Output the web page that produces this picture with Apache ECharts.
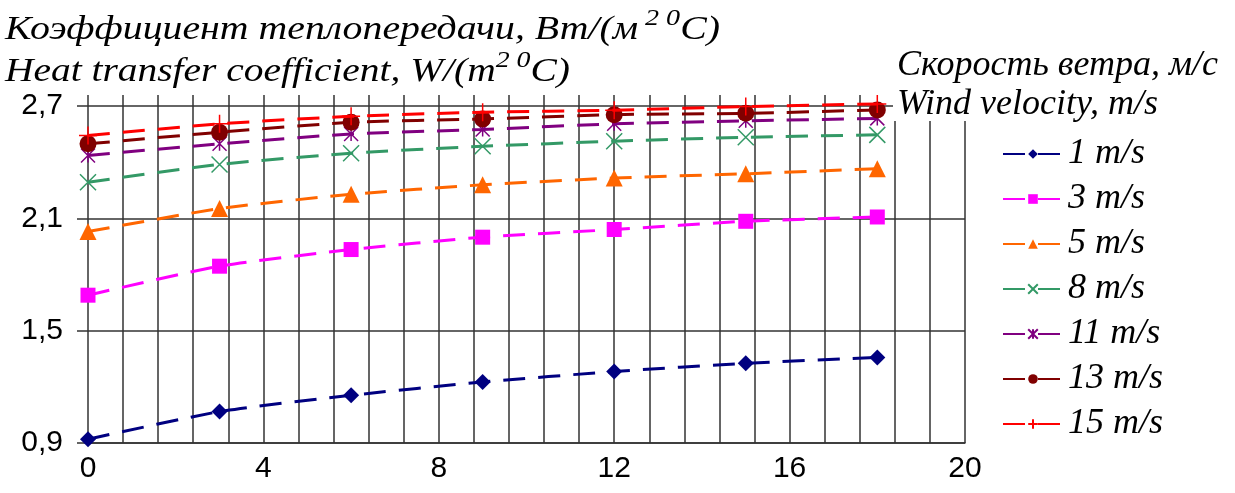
<!DOCTYPE html>
<html>
<head>
<meta charset="utf-8">
<script src="https://cdn.jsdelivr.net/npm/echarts@6/dist/echarts.min.js"></script>
<style>
  html, body { margin: 0; background: #fff; }
  #chart { width: 1235px; height: 493px; }
</style>
</head>
<body>
<div id="chart"></div>
<script>
// values
const xValues = [0, 3, 6, 9, 12, 15, 18]
const speedNames = ['1 m/s', '3 m/s', '5 m/s', '8 m/s', '11 m/s', '13 m/s', '15 m/s']
const k1 = [0.92, 1.068, 1.155, 1.226, 1.282, 1.326, 1.357]
const k3 = [1.69, 1.845, 1.934, 2.0, 2.041, 2.085, 2.108]
const k5 = [2.03, 2.153, 2.229, 2.28, 2.316, 2.339, 2.366]
const k8 = [2.294, 2.389, 2.449, 2.486, 2.513, 2.534, 2.547]
const k11 = [2.437, 2.499, 2.552, 2.576, 2.606, 2.622, 2.635]
const k13 = [2.499, 2.561, 2.614, 2.632, 2.655, 2.662, 2.68]
const k15 = [2.543, 2.606, 2.646, 2.668, 2.679, 2.698, 2.712]
const xTicks = [0, 4, 8, 12, 16, 20]
const yTicks = [0.9, 1.5, 2.1, 2.7]

const allValues = [k1, k3, k5, k8, k11, k13, k15]
const colors = ['#000080', '#ff00ff', '#ff6600', '#339966', '#800080', '#800000', '#ff0000']
const symbols = [
  'diamond', 'rect', 'triangle',
  'path://M0,0L10,10M10,0L0,10',
  'path://M0,0L10,10M10,0L0,10M5,0L5,10',
  'circle',
  'path://M5,0L5,10M0,5L10,5'
]
const symbolSizes = [16, 15, 17, 16, 14, 17, 18]
const stroked = [false, false, false, true, true, false, true]

const gridLine = { color: '#333', width: 1.5 }
const serif = 'Liberation Serif'
const sans = 'Liberation Sans'

const chart = echarts.init(document.getElementById('chart'))

const series = allValues.map((vals, i) => ({
  name: speedNames[i],
  type: 'line',
  xAxisIndex: 0,
  yAxisIndex: 0,
  data: xValues.map((x, j) => [x, vals[j]]),
  smooth: 0.2,
  symbol: symbols[i],
  symbolSize: symbolSizes[i],
  showAllSymbol: true,
  lineStyle: { color: colors[i], width: 3, type: [22, 13] },
  itemStyle: stroked[i]
    ? { color: colors[i], borderColor: colors[i], borderWidth: 1.5 }
    : { color: colors[i] },
  emphasis: { disabled: true },
  z: 3 + i
}))

const titleRich = {
  a: { fontFamily: serif, fontStyle: 'italic', fontSize: 34, lineHeight: 40, verticalAlign: 'bottom' },
  s: { fontFamily: serif, fontStyle: 'italic', fontSize: 24, lineHeight: 24, verticalAlign: 'top' }
}

const option = {
  animation: false,
  backgroundColor: '#fff',
  grid: [
    { left: 88, right: 270, top: 95, bottom: 50 },
    { left: 88, right: 270, top: 106, bottom: 50 }
  ],
  xAxis: [
    {
      gridIndex: 0, type: 'value', min: xTicks[0], max: xTicks[xTicks.length - 1], interval: 4,
      axisLine: { show: true, lineStyle: gridLine },
      axisTick: { show: false },
      axisLabel: { color: '#000', fontFamily: sans, fontSize: 30, margin: 11 },
      splitLine: { show: true, lineStyle: gridLine },
      minorTick: { show: false, splitNumber: 5 },
      minorSplitLine: { show: true, lineStyle: gridLine }
    },
    { gridIndex: 1, type: 'value', min: 0, max: 20, show: false }
  ],
  yAxis: [
    { gridIndex: 0, type: 'value', min: 0.9, max: 2.76, show: false },
    {
      gridIndex: 1, type: 'value', min: yTicks[0], max: yTicks[yTicks.length - 1], interval: 0.6,
      axisLine: { show: false },
      axisTick: { show: true, length: 11, lineStyle: gridLine },
      axisLabel: {
        color: '#000', fontFamily: sans, fontSize: 30, margin: 25,
        formatter: v => v.toFixed(1).replace('.', ',')
      },
      splitLine: { show: true, lineStyle: gridLine }
    }
  ],
  legend: {
    orient: 'vertical',
    left: 997,
    top: 129,
    itemWidth: 60,
    itemHeight: 12,
    itemGap: 5,
    data: speedNames,
    textStyle: { fontFamily: serif, fontStyle: 'italic', fontSize: 36, color: '#000', lineHeight: 40 }
  },
  graphic: [
    {
      type: 'rect', z: 100, shape: { x: 893, y: 90, width: 342, height: 31 },
      style: { fill: '#fff' }
    },
    {
      type: 'text', z: 101, left: 5, top: 7, scaleX: 1.17,
      style: { text: '{a|Коэффициент теплопередачи, Вт/(м}{s| 2 0}{a|С)}', fill: '#000', rich: titleRich }
    },
    {
      type: 'text', z: 101, left: 5, top: 49, scaleX: 1.16,
      style: { text: '{a|Heat transfer coefficient, W/(m}{s|2 0}{a|C)}', fill: '#000', rich: titleRich }
    },
    {
      type: 'text', z: 101, left: 897, top: 48,
      style: { text: 'Скорость ветра, м/с', fill: '#000', font: 'italic 36px "Liberation Serif"' }
    },
    {
      type: 'text', z: 101, left: 897, top: 87,
      style: { text: 'Wind velocity, m/s', fill: '#000', font: 'italic 36px "Liberation Serif"' }
    }
  ],
  series
}

chart.setOption(option)
</script>
</body>
</html>
